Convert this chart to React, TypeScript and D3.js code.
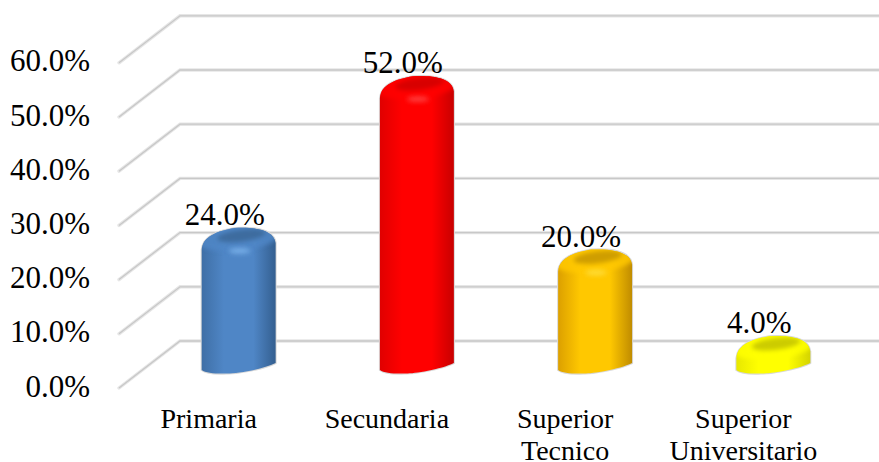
import React from "react";
import * as d3 from "d3";

const categories = ["Primaria", "Secundaria", "Superior Tecnico", "Superior Universitario"];
const values = [24, 52, 20, 4];
const valueLabels = ["24.0%", "52.0%", "20.0%", "4.0%"];
const ticks = [0, 10, 20, 30, 40, 50, 60];
const bases = ["#4f86c6", "#ff0000", "#ffc800", "#ffff00"];
const edges = ["#345f90", "#c80000", "#c08c00", "#d4d400"];
const lefts = ["#3f6fa6", "#e00000", "#dca000", "#e8e800"];
const caps = ["#3c6c9f", "#d80000", "#cf9e00", "#cccc00"];
const glows = ["#7fb6ee", "#ff4a4a", "#ffe040", "#ffff70"];

const W = 879, H = 462;
const y = d3.scaleLinear().domain([0, 60]).range([388, 62.8]);
const x = d3.scaleBand<string>().domain(categories).range([150, 862]).paddingInner(0.585).paddingOuter(0.29);
const depthX = 61, depthY = -47, gridRight = 879, barLift = 20;
const serif = "'Liberation Serif', serif";

function barPath(cx: number, hw: number, yb: number, yt: number) {
  return [
    `M${cx - hw},${yt + 12}`,
    `C${cx - hw + 1},${yt - 2} ${cx - hw + 16},${yt - 7} ${cx - 4},${yt - 10}`,
    `C${cx + 14},${yt - 11} ${cx + hw - 2},${yt - 9} ${cx + hw},${yt + 5}`,
    `L${cx + hw},${yb - 5}`,
    `C${cx + hw - 14},${yb + 2} ${cx - 6},${yb + 6} ${cx - 12},${yb + 5.5}`,
    `C${cx - 22},${yb + 6} ${cx - hw + 4},${yb + 5} ${cx - hw},${yb + 2}`,
    "Z",
  ].join(" ");
}

export default function App() {
  const hw = x.bandwidth() / 2;
  return (
    <svg width={W} height={H} style={{ position: "absolute", left: 0, top: 0, background: "#fff" }}>
      <defs>
        {bases.map((c, i) => (
          <linearGradient key={i} id={`body${i}`} x1="0" x2="1" y1="0" y2="0">
            <stop offset="0" stopColor={lefts[i]} />
            <stop offset="0.3" stopColor={c} />
            <stop offset="0.7" stopColor={c} />
            <stop offset="1" stopColor={edges[i]} />
          </linearGradient>
        ))}
        <filter id="soft" x="-50%" y="-100%" width="200%" height="300%"><feGaussianBlur stdDeviation="2" /></filter>
        <filter id="softer" x="-50%" y="-100%" width="200%" height="300%"><feGaussianBlur stdDeviation="2.6" /></filter>
        {categories.map((c, i) => {
          const cx = x(c)! + hw;
          return (
            <clipPath key={i} id={`clip${i}`}>
              <path d={barPath(cx, hw, y(0) - barLift, y(values[i]) - barLift)} />
            </clipPath>
          );
        })}
      </defs>

      <g fill="none">
        {ticks.map((t) => {
          const d = `M${119},${y(t)} L${119 + depthX},${y(t) + depthY} L${gridRight},${y(t) + depthY}`;
          return (
            <g key={t}>
              <path d={d} stroke="#e6e6e6" strokeWidth={3.4} strokeLinecap="round" />
              <path d={d} stroke="#c8c8c8" strokeWidth={1.3} />
            </g>
          );
        })}
      </g>

      {ticks.map((t) => (
        <text key={t} x={90} y={y(t) + 8.5} textAnchor="end" fontFamily={serif} fontSize={31} fill="#000">
          {d3.format(".1f")(t)}%
        </text>
      ))}

      {categories.map((c, i) => {
        const cx = x(c)! + hw;
        const yb = y(0) - barLift;
        const yt = y(values[i]) - barLift;
        return (
          <g key={c}>
            <path d={barPath(cx, hw, yb, yt)} fill="none" stroke="#d8d8d8" strokeWidth={2} />
            <path d={barPath(cx, hw, yb, yt)} fill={`url(#body${i})`} />
            <g clipPath={`url(#clip${i})`}>
              <ellipse cx={cx} cy={yt - 2} rx={hw + 6} ry={15} transform={`rotate(-6 ${cx} ${yt})`} fill={bases[i]} filter="url(#soft)" opacity={0.85} />
              <ellipse cx={cx + 3} cy={yt - 2} rx={hw * 0.66} ry={6} transform={`rotate(-7 ${cx} ${yt})`} fill={caps[i]} filter="url(#soft)" />
              <ellipse cx={cx + 1} cy={yt + 13} rx={11} ry={2.6} fill={glows[i]} filter="url(#softer)" opacity={i === 3 ? 0 : 0.95} />
            </g>
          </g>
        );
      })}

      {categories.map((c, i) => (
        <text key={c} x={x(c)! + hw - 14} y={y(values[i]) - barLift - 13} textAnchor="middle" fontFamily={serif} fontSize={31} fill="#000">
          {valueLabels[i]}
        </text>
      ))}

      {categories.map((c) => {
        const words = c.split(" ");
        const cx = x(c)! + hw - 30;
        return (
          <text key={c} textAnchor="middle" fontFamily={serif} fontSize={28} fill="#000">
            {words.map((w, j) => (
              <tspan key={j} x={cx} y={428 + j * 32}>{w}</tspan>
            ))}
          </text>
        );
      })}
    </svg>
  );
}
